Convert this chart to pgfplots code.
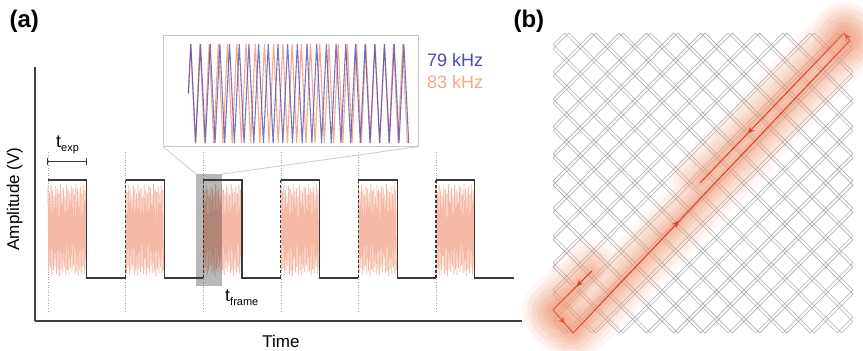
\documentclass[border=0pt]{standalone}
\usepackage{pgfplots}
\pgfplotsset{compat=1.18}
\usepackage{pgfplotstable}
\usepackage{fontspec}
\setmainfont{Liberation Sans}
\usetikzlibrary{arrows.meta,decorations.markings}

\definecolor{wave}{HTML}{3A3A3A}
\definecolor{noise}{HTML}{F6B9A5}
\definecolor{lowf}{HTML}{4B4BAE}
\definecolor{highf}{HTML}{F7A88E}
\definecolor{latt}{HTML}{8A8A8A}
\definecolor{beam}{HTML}{D8432C}
\definecolor{glow}{HTML}{F39A74}

% drive signal inside one exposure window: local time (frames), amplitude
\pgfplotstableread{
u a
0.000 0.93
0.010 0.05
0.020 0.88
0.030 0.10
0.040 0.95
0.050 0.03
0.060 0.90
0.070 0.08
0.080 0.84
0.090 0.12
0.100 0.94
0.110 0.04
0.120 0.91
0.130 0.07
0.140 0.86
0.150 0.02
0.160 0.96
0.170 0.09
0.180 0.89
0.190 0.06
0.200 0.92
0.210 0.11
0.220 0.83
0.230 0.04
0.240 0.95
0.250 0.08
0.260 0.90
0.270 0.03
0.280 0.87
0.290 0.10
0.300 0.94
0.310 0.06
0.320 0.92
0.330 0.13
0.340 0.85
0.350 0.05
0.360 0.96
0.370 0.07
0.380 0.91
0.390 0.02
0.400 0.88
0.410 0.09
0.420 0.93
0.430 0.05
0.440 0.86
0.450 0.11
0.460 0.95
0.470 0.04
0.480 0.90
0.490 0.08
}\burst

% scan lines: offset e from the diagonals, length L = 1 - e, edges z and o
\pgfplotstableread{
e L z o
0.0385 0.9615 0 1
0.0525 0.9475 0 1
0.1294 0.8706 0 1
0.1434 0.8566 0 1
0.2203 0.7797 0 1
0.2343 0.7657 0 1
0.3112 0.6888 0 1
0.3252 0.6748 0 1
0.4021 0.5979 0 1
0.4161 0.5839 0 1
0.4930 0.5070 0 1
0.5070 0.4930 0 1
0.5839 0.4161 0 1
0.5979 0.4021 0 1
0.6748 0.3252 0 1
0.6888 0.3112 0 1
0.7657 0.2343 0 1
0.7797 0.2203 0 1
0.8566 0.1434 0 1
0.8706 0.1294 0 1
0.9475 0.0525 0 1
0.9615 0.0385 0 1
}\lattice

% beam path in the scan field
\pgfplotstableread{
x y
0.13 0.207
0.00 0.077
0.067 0.000
0.99 0.975
0.97 1.000
0.49 0.500
}\beampath

\tikzset{
  arrowat/.style={postaction={decorate},
    decoration={markings, mark=at position #1 with {\arrow{Stealth[length=7pt,width=6pt]}}}},
  scanline/.style={draw=latt, line width=0.6pt, draw opacity=0.65},
}
\pgfplotsset{
  glowline/.style 2 args={draw=glow, line width=#1, draw opacity=#2, line cap=round, line join=round},
  glowspot/.style 2 args={only marks, color=glow, mark=*, mark size=#1,
    mark options={draw opacity=0, fill=glow, fill opacity=#2}},
}

\begin{document}
\begin{tikzpicture}
\path[use as bounding box, fill=white] (0pt,0pt) rectangle (863pt,351pt);

% ---------------- (a) square-wave exposure and scan signal ----------------
\begin{axis}[
  at={(35pt,30pt)}, anchor=south west,
  scale only axis, width=487pt, height=254pt,
  xmin=-0.1675, xmax=6.108, ymin=-0.4388, ymax=2.153,
  axis x line*=bottom, axis y line*=left,
  axis line style={-, black!75, line width=1.1pt},
  xtick=\empty, ytick=\empty,
  clip=false, unbounded coords=jump,
]
% frame start markers
\addplot[black!35, dotted, line width=0.6pt] coordinates {
  (0,1.286) (0,-0.347) (0,nan)
  (1,1.286) (1,-0.347) (1,nan)
  (2,1.286) (2,-0.347) (2,nan)
  (3,1.286) (3,-0.347) (3,nan)
  (4,1.286) (4,-0.347) (4,nan)
  (5,1.286) (5,-0.347)
};
% scan signal during each exposure
\pgfplotsinvokeforeach{0,...,5}{
  \addplot[noise, line width=0.8pt] table[x expr=\thisrow{u}+#1, y=a] {\burst};
}
% highlighted window
\addplot[fill=black, fill opacity=0.28, draw=none] coordinates {
  (1.903,-0.082) (2.246,-0.082) (2.246,1.061) (1.903,1.061)} -- cycle;
% camera exposure signal
\addplot[wave, line width=1.1pt] coordinates {
  (0,1) (0.5,1) (0.5,0) (1,0) (1,nan)
  (1,1) (1.5,1) (1.5,0) (2,0) (2,nan)
  (2,1) (2.5,1) (2.5,0) (3,0) (3,nan)
  (3,1) (3.5,1) (3.5,0) (4,0) (4,nan)
  (4,1) (4.5,1) (4.5,0) (5,0) (5,nan)
  (5,1) (5.5,1) (5.5,0) (6,0)
};
\addplot[wave, line width=1.1pt, densely dashed] coordinates {
  (1,0) (1,1) (1,nan)
  (2,0) (2,1) (2,nan)
  (3,0) (3,1) (3,nan)
  (4,0) (4,1) (4,nan)
  (5,0) (5,1)
};
% exposure time bar
\addplot[wave, line width=1pt] coordinates {
  (0,1.184) (0.5,1.184) (0.5,nan)
  (0,1.148) (0,1.220) (0,nan)
  (0.5,1.148) (0.5,1.220)
};
\end{axis}

% zoom connectors
\draw[black!20, line width=0.8pt] (196pt,177pt) -- (163pt,204.3pt);
\draw[black!20, line width=0.8pt] (222.3pt,177pt) -- (418pt,204.3pt);

% ---------------- inset: the two triangle drives ----------------
\begin{axis}[
  at={(163pt,204.3pt)}, anchor=south west,
  scale only axis, width=255pt, height=111pt,
  xmin=-33.2, xmax=300.1, ymin=-1.075, ymax=1.168,
  xtick=\empty, ytick=\empty,
  axis line style={black!22, line width=1pt},
  axis background/.style={fill=white},
]
\addplot[highf, line width=1.1pt] coordinates {
 (0,0) (3.01,1) (9.04,-1) (15.06,1) (21.08,-1) (27.11,1) (33.13,-1) (39.16,1)
 (45.18,-1) (51.20,1) (57.23,-1) (63.25,1) (69.28,-1) (75.30,1) (81.33,-1)
 (87.35,1) (93.37,-1) (99.40,1) (105.42,-1) (111.45,1) (117.47,-1) (123.49,1)
 (129.52,-1) (135.54,1) (141.57,-1) (147.59,1) (153.61,-1) (159.64,1) (165.66,-1)
 (171.69,1) (177.71,-1) (183.73,1) (189.76,-1) (195.78,1) (201.81,-1) (207.83,1)
 (213.86,-1) (219.88,1) (225.90,-1) (231.93,1) (237.95,-1) (243.98,1) (250.00,-1)
 (256.02,1) (262.05,-1) (268.07,1) (274.10,-1) (280.12,1) (286.14,-1)
};
\addplot[lowf, line width=1.1pt, opacity=0.75] coordinates {
 (0,0) (3.16,1) (9.49,-1) (15.82,1) (22.15,-1) (28.48,1) (34.81,-1) (41.14,1)
 (47.47,-1) (53.80,1) (60.13,-1) (66.46,1) (72.78,-1) (79.11,1) (85.44,-1)
 (91.77,1) (98.10,-1) (104.43,1) (110.76,-1) (117.09,1) (123.42,-1) (129.75,1)
 (136.08,-1) (142.41,1) (148.73,-1) (155.06,1) (161.39,-1) (167.72,1) (174.05,-1)
 (180.38,1) (186.71,-1) (193.04,1) (199.37,-1) (205.70,1) (212.03,-1) (218.35,1)
 (224.68,-1) (231.01,1) (237.34,-1) (243.67,1) (250.00,-1) (256.33,1) (262.66,-1)
 (268.99,1) (275.32,-1) (281.65,1) (287.97,-1)
};
\end{axis}

% ---------------- (b) scan pattern and beam path ----------------
\begin{axis}[
  at={(553pt,18pt)}, anchor=south west,
  scale only axis, width=300pt, height=300pt,
  xmin=0, xmax=1, ymin=0, ymax=1,
  axis lines=none, clip=false,
]
\addplot[draw=latt, draw opacity=0.65, line width=0.6pt,
  quiver={u=\thisrow{L}, v=\thisrow{L}, every arrow/.append style={scanline}}]
  table[x=e, y=z] {\lattice};
\addplot[draw=latt, draw opacity=0.65, line width=0.6pt,
  quiver={u=\thisrow{L}, v=\thisrow{L}, every arrow/.append style={scanline}}]
  table[x=z, y=e] {\lattice};
\addplot[draw=latt, draw opacity=0.65, line width=0.6pt,
  quiver={u=\thisrow{L}, v=-\thisrow{L}, every arrow/.append style={scanline}}]
  table[x=z, y=L] {\lattice};
\addplot[draw=latt, draw opacity=0.65, line width=0.6pt,
  quiver={u=\thisrow{L}, v=-\thisrow{L}, every arrow/.append style={scanline}}]
  table[x=e, y=o] {\lattice};

% glow around the beam path
\addplot[glowline={62pt}{0.07}] table {\beampath};
\addplot[glowline={52pt}{0.09}] table {\beampath};
\addplot[glowline={42pt}{0.11}] table {\beampath};
\addplot[glowline={33pt}{0.13}] table {\beampath};
\addplot[glowline={24pt}{0.15}] table {\beampath};
\addplot[glowline={16pt}{0.18}] table {\beampath};
\addplot[glowline={8pt}{0.20}] table {\beampath};
\addplot[glowspot={34pt}{0.06}] coordinates {(0.02,0.06) (0.98,0.985)};
\addplot[glowspot={28pt}{0.08}] coordinates {(0.02,0.06) (0.98,0.985)};
\addplot[glowspot={22pt}{0.10}] coordinates {(0.02,0.06) (0.98,0.985)};
\addplot[glowspot={15pt}{0.12}] coordinates {(0.02,0.06) (0.98,0.985)};

% beam path
\addplot[beam, line width=1pt, arrowat=0.4] coordinates {(0.13,0.207) (0,0.077)};
\addplot[beam, line width=1pt, arrowat=0.6] coordinates {(0,0.077) (0.067,0)};
\addplot[beam, line width=1pt, arrowat=0.383] coordinates {(0.067,0) (0.99,0.975)};
\addplot[beam, line width=1pt, arrowat=0.9] coordinates {(0.99,0.975) (0.97,1.0)};
\addplot[beam, line width=1pt, arrowat=0.67] coordinates {(0.97,1.0) (0.49,0.5)};
\end{axis}

% ---------------- labels ----------------
\node[anchor=base west, font=\fontsize{24}{24}\selectfont\bfseries] at (6pt,323pt) {(a)};
\node[anchor=base west, font=\fontsize{24}{24}\selectfont\bfseries] at (510pt,323pt) {(b)};
\node[anchor=base, font=\fontsize{17}{17}\selectfont] at (281pt,3pt) {Time};
\node[anchor=base, rotate=90, font=\fontsize{17}{17}\selectfont] at (19pt,152pt) {Amplitude (V)};
\node[anchor=base west, inner sep=0pt, font=\fontsize{18}{18}\selectfont] at (56pt,203pt)
  {t\raisebox{-4pt}{\fontsize{11}{11}\selectfont exp}};
\node[anchor=base west, inner sep=0pt, font=\fontsize{18}{18}\selectfont] at (225pt,49pt)
  {t\raisebox{-4pt}{\fontsize{11}{11}\selectfont frame}};
\node[anchor=base west, inner sep=0pt, text=lowf, font=\fontsize{18}{18}\selectfont] at (427pt,284.5pt) {79 kHz};
\node[anchor=base west, inner sep=0pt, text=highf, font=\fontsize{18}{18}\selectfont] at (427pt,262pt) {83 kHz};
\end{tikzpicture}
\end{document}
